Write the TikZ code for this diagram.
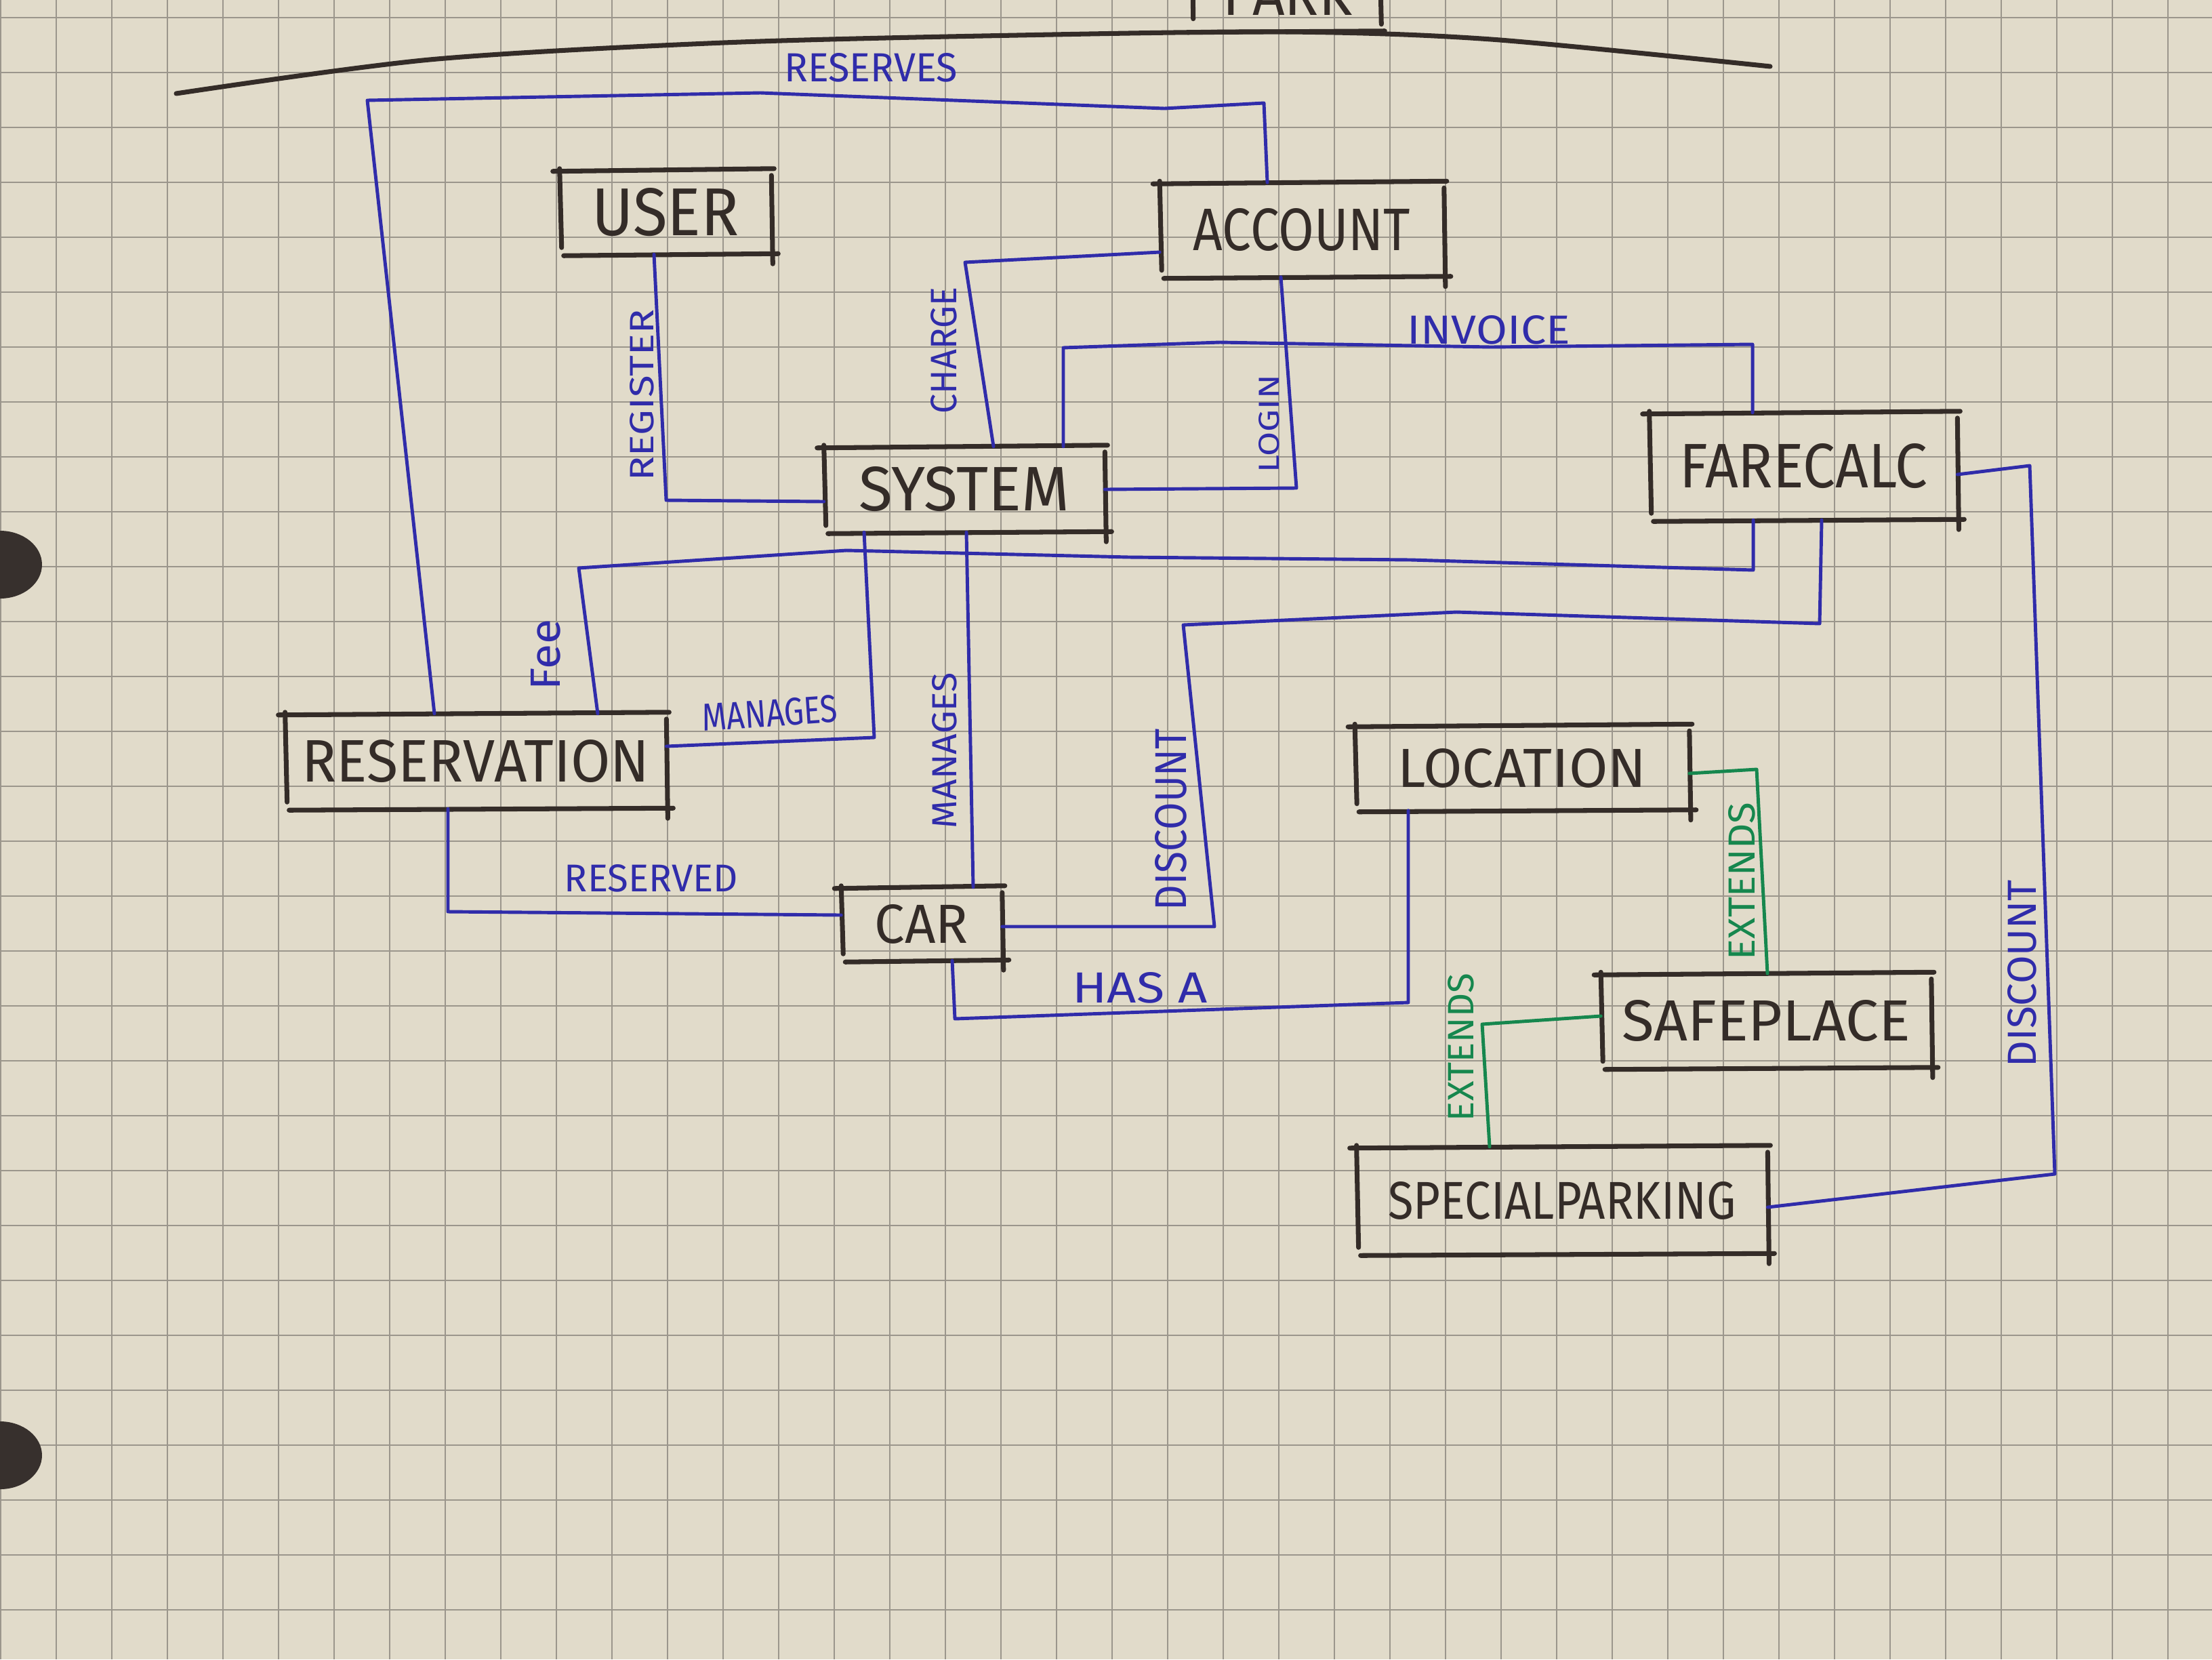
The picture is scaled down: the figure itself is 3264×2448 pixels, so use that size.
\documentclass[tikz,border=0pt]{standalone}
\usepackage{fontspec}
\setmainfont{Fira Sans}
\usepackage{graphicx}
\definecolor{paper}{RGB}{225,219,202}
\definecolor{gridc}{RGB}{155,150,140}
\definecolor{ink}{RGB}{52,44,40}
\definecolor{bink}{RGB}{48,44,170}
\definecolor{gink}{RGB}{22,135,78}
\definecolor{holec}{RGB}{55,48,45}
\newcommand\skedges[1]{%
  \draw[boxln] ([shift={(-10,2)}]#1.north west) -- ([shift={(4,-2)}]#1.north east);
  \draw[boxln] ([shift={(6,2)}]#1.south west) -- ([shift={(10,-1)}]#1.south east);
  \draw[boxln] ([shift={(0,-2)}]#1.north west) -- ([shift={(3,-10)}]#1.south west);
  \draw[boxln] ([shift={(0,8)}]#1.north east) -- ([shift={(2,14)}]#1.south east);
}
\begin{document}
\begin{tikzpicture}[x=0.01cm,y=-0.01cm,
  gridln/.style={gridc, line width=0.5pt},
  boxln/.style={ink, line width=2pt, line cap=round},
  conn/.style={bink, line width=1.4pt, line join=round, line cap=round},
  gconn/.style={gink, line width=1.4pt, line join=round, line cap=round},
  skbox/.style={draw=none, inner sep=0pt, text=ink},
  lbl/.style={inner sep=0pt, text=bink},
  glbl/.style={inner sep=0pt, text=gink}]
\useasboundingbox (0,0) rectangle (3264,2448);
\clip (0,0) rectangle (3264,2448);
\fill[paper] (0,0) rectangle (3264,2448);
\foreach \i in {0,...,39} \draw[gridln] ({1+82*\i},0) -- ({1+82*\i},2448);
\foreach \j in {0,...,30} \draw[gridln] (0,{26+81*\j}) -- (3264,{26+81*\j});
% binder holes
\fill[holec] (0,833) ellipse [x radius=62, y radius=50];
\fill[holec] (0,2147) ellipse [x radius=62, y radius=50];

% top separator line and cut-off box
\draw[boxln] plot[smooth] coordinates {(260,138) (634,88) (1068,63) (1501,52) (1900,47) (2200,58) (2612,98)};
\node[skbox, minimum width=2.75cm, minimum height=1.5cm] (park) at (1897,-30) {};
\node[skbox] (parktxt) at (1900,-8) {\resizebox{1.9cm}{0.6cm}{PARK}};
\draw[boxln] (park.north west) -- ([shift={(2,-18)}]park.south west);
\draw[boxln] (park.north east) -- ([shift={(3,-10)}]park.south east);
\draw[boxln] ([shift={(-6,2)}]park.south west) -- ([shift={(8,0)}]park.south east);

% class boxes
\node[skbox, minimum width=3.11cm, minimum height=1.23cm] (user) at (982,313) {\resizebox{2.17cm}{0.70cm}{USER}};
\node[skbox, minimum width=4.18cm, minimum height=1.38cm] (acc) at (1921,339) {\resizebox{3.20cm}{0.62cm}{ACCOUNT}};
\node[skbox, minimum width=4.13cm, minimum height=1.25cm] (sys) at (1423,722) {\resizebox{3.10cm}{0.65cm}{SYSTEM}};
\node[skbox, minimum width=4.53cm, minimum height=1.57cm] (fare) at (2661,688) {\resizebox{3.65cm}{0.65cm}{FARECALC}};
\node[skbox, minimum width=5.61cm, minimum height=1.39cm] (res) at (702,1123) {\resizebox{5.12cm}{0.62cm}{RESERVATION}};
\node[skbox, minimum width=2.36cm, minimum height=1.07cm] (car) at (1360,1363) {\resizebox{1.38cm}{0.57cm}{CAR}};
\node[skbox, minimum width=4.92cm, minimum height=1.24cm] (loc) at (2246,1133) {\resizebox{3.67cm}{0.57cm}{LOCATION}};
\node[skbox, minimum width=4.86cm, minimum height=1.38cm] (safe) at (2606,1506) {\resizebox{4.25cm}{0.60cm}{SAFEPLACE}};
\node[skbox, minimum width=6.05cm, minimum height=1.57cm] (spec) at (2305,1771) {\resizebox{5.13cm}{0.55cm}{SPECIALPARKING}};
\skedges{user}
\skedges{acc}
\skedges{sys}
\skedges{fare}
\skedges{res}
\skedges{car}
\skedges{loc}
\skedges{safe}
\skedges{spec}

% blue connectors
\draw[conn] (641,0 |- res.north) -- (542,148) -- (1122,137) -- (1718,160) -- (1865,152) -- (1870,0 |- acc.north);
\draw[conn] (965,0 |- user.south) -- (983,738) -- (0,740 -| sys.west);
\draw[conn] (acc.west |- 0,372) -- (1424,387) -- (1466,0 |- sys.north);
\draw[conn] (1890,0 |- acc.south) -- (1913,720) -- (sys.east |- 0,722);
\draw[conn] (1569,0 |- sys.north) -- (1569,513) -- (1800,505) -- (2200,512) -- (2586,508) -- (2586,0 |- fare.north);
\draw[conn] (2587,0 |- fare.south) -- (2587,841) -- (2082,826) -- (1666,822) -- (1249,812) -- (854,838) -- (882,0 |- res.north);
\draw[conn] (1275,0 |- sys.south) -- (1290,1088) -- (res.east |- 0,1101);
\draw[conn] (1426,0 |- sys.south) -- (1436,0 |- car.north);
\draw[conn] (661,0 |- res.south) -- (661,1345) -- (car.west |- 0,1350);
\draw[conn] (1405,0 |- car.south) -- (1409,1503) -- (2078,1479) -- (2078,0 |- loc.south);
\draw[conn] (car.east |- 0,1367) -- (1792,1367) -- (1746,922) -- (2149,903) -- (2685,920) -- (2688,0 |- fare.south);
\draw[conn] (fare.east |- 0,700) -- (2995,687) -- (3032,1732) -- (spec.east |- 0,1781);
% green connectors
\draw[gconn] (loc.east |- 0,1141) -- (2592,1135) -- (2608,0 |- safe.north);
\draw[gconn] (safe.west |- 0,1499) -- (2187,1511) -- (2198,0 |- spec.north);

% connector labels
\node[lbl] (lres) at (1285,100) {\resizebox{2.55cm}{0.42cm}{RESERVES}};
\node[lbl, rotate=90] (lreg) at (947,583) {\resizebox{2.53cm}{0.35cm}{REGISTER}};
\node[lbl, rotate=90] (lcha) at (1393,517) {\resizebox{1.87cm}{0.38cm}{CHARGE}};
\node[lbl, rotate=90] (llog) at (1873,625) {\resizebox{1.44cm}{0.30cm}{LOGIN}};
\node[lbl] (linv) at (2197,487) {\resizebox{2.40cm}{0.42cm}{INVOICE}};
\node[lbl, rotate=90] (lfee) at (805,966) {\resizebox{1.05cm}{0.43cm}{Fee}};
\node[lbl, rotate=4] (lman1) at (1136,1052) {\resizebox{2.00cm}{0.40cm}{MANAGES}};
\node[lbl, rotate=90] (lman2) at (1394,1107) {\resizebox{2.30cm}{0.36cm}{MANAGES}};
\node[lbl] (lrsv) at (961,1296) {\resizebox{2.56cm}{0.40cm}{RESERVED}};
\node[lbl] (lhas) at (1682,1457) {\resizebox{1.99cm}{0.45cm}{HAS A}};
\node[lbl, rotate=90] (ldis1) at (1728,1209) {\resizebox{2.68cm}{0.46cm}{DISCOUNT}};
\node[lbl, rotate=90] (ldis2) at (2984,1436) {\resizebox{2.76cm}{0.42cm}{DISCOUNT}};
\node[glbl, rotate=90] (lext1) at (2570,1300) {\resizebox{2.32cm}{0.39cm}{EXTENDS}};
\node[glbl, rotate=90] (lext2) at (2156,1545) {\resizebox{2.18cm}{0.38cm}{EXTENDS}};
\end{tikzpicture}
\end{document}
